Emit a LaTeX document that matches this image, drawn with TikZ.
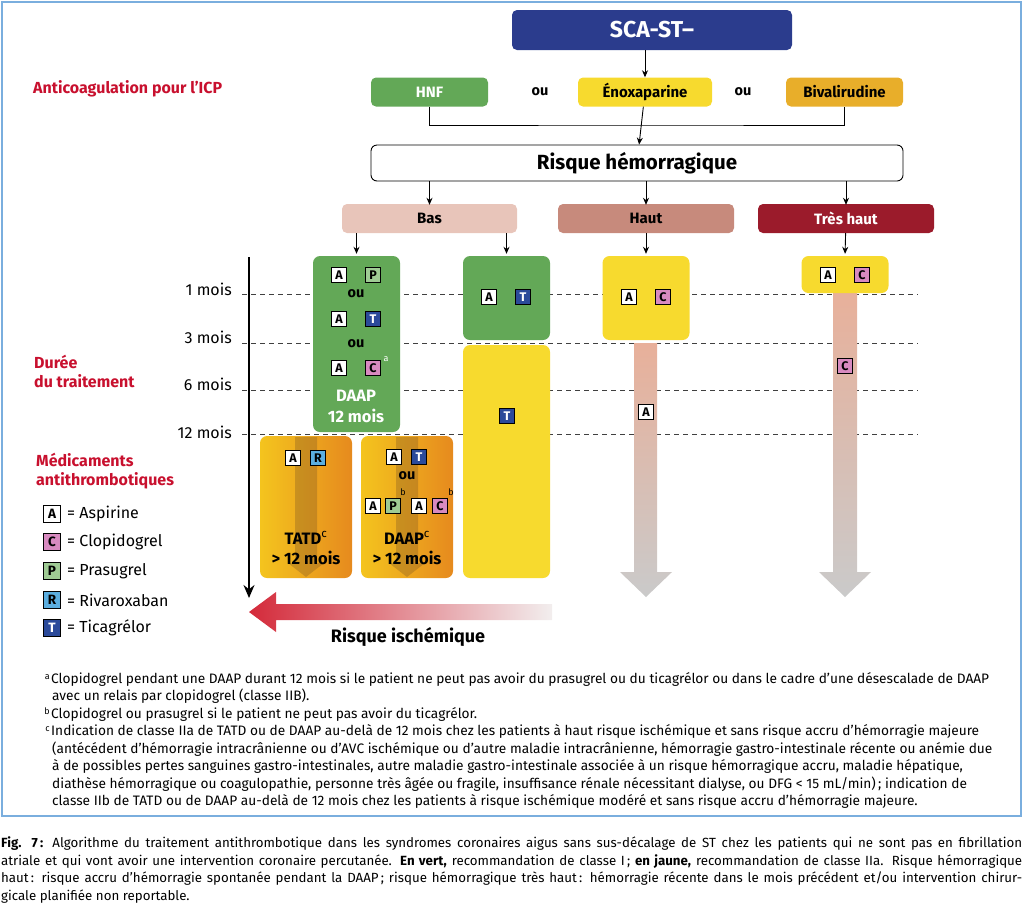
\documentclass[tikz,border=0pt]{standalone}
\usepackage{fontspec}
\setmainfont{Fira Sans}
\usetikzlibrary{arrows.meta}
\definecolor{navy}{HTML}{2B3C8D}
\definecolor{grn}{HTML}{63A857}
\definecolor{yel}{HTML}{F7DA2E}
\definecolor{org}{HTML}{E8AE2A}
\definecolor{basc}{HTML}{E8C5BA}
\definecolor{hautc}{HTML}{C78A7C}
\definecolor{tresc}{HTML}{9B1B2B}
\definecolor{redt}{HTML}{C8102E}
\definecolor{cC}{HTML}{D88AC0}
\definecolor{cP}{HTML}{9FCB94}
\definecolor{cR}{HTML}{5BAEE0}
\definecolor{cT}{HTML}{2B4A9A}
\definecolor{bord}{HTML}{7AAEDE}
\definecolor{salm}{HTML}{E8B09A}
\definecolor{gry}{HTML}{CACACA}
\definecolor{oyel}{HTML}{F4C41E}
\definecolor{oorg}{HTML}{E68A1E}
\definecolor{redA}{HTML}{D42A3A}
\definecolor{redB}{HTML}{F2EEEE}
\tikzset{
  box/.style={rounded corners=5pt, minimum height=29pt, inner sep=0pt, font=\bfseries\fontsize{15}{15}\selectfont},
  panel/.style={rounded corners=7pt, inner sep=0pt},
  badge/.style={draw=black, line width=0.7pt, minimum size=15.5pt, inner sep=0pt, font=\bfseries\fontsize{12.5}{12.5}\selectfont},
  bA/.style={badge, fill=white},
  bC/.style={badge, fill=cC},
  bP/.style={badge, fill=cP},
  bR/.style={badge, fill=cR},
  bT/.style={badge, fill=cT, text=white},
  lbadge/.style={minimum size=17pt, font=\bfseries\fontsize{13.5}{13.5}\selectfont},
  conn/.style={line width=0.9pt, -{Stealth[length=7pt,width=6pt]}},
  plain/.style={line width=0.9pt},
  ou/.style={font=\bfseries\fontsize{14.5}{14.5}\selectfont},
  wtxt/.style={font=\bfseries\fontsize{16.5}{16.5}\selectfont, text=white},
  btxt/.style={font=\bfseries\fontsize{16.5}{16.5}\selectfont},
  redlab/.style={anchor=base west, font=\bfseries\fontsize{16}{16}\selectfont, text=redt, inner sep=0pt},
  mois/.style={anchor=base east, font=\fontsize{16}{16}\selectfont, inner sep=0pt},
  legtxt/.style={anchor=west, font=\fontsize{16}{16}\selectfont, inner sep=0pt},
  fn/.style={anchor=base west, font=\fontsize{13.7}{16}\selectfont, inner sep=0pt},
  captxt/.style={anchor=base west, font=\fontsize{13.3}{16}\selectfont, inner sep=0pt},
  sup/.style={font=\fontsize{9}{9}\selectfont, inner sep=0pt},
  dashline/.style={line width=0.8pt, dash pattern=on 5pt off 4pt, draw=black!75},
  darr/.style={fill=black!45!brown, opacity=0.28}
}
\begin{document}
\begin{tikzpicture}[x=1pt,y=-1pt]
\useasboundingbox (0,0) rectangle (1024,903);
% frame
\draw[bord, line width=1.6pt] (2,2) rectangle (1021,816);

% dashed time lines
\draw[dashline] (242,294) -- (918,294);
\draw[dashline] (242,343) -- (918,343);
\draw[dashline] (242,390) -- (918,390);
\draw[dashline] (242,434) -- (918,434);
\node[mois] (m1) at (232,295) {1 mois};
\node[mois] (m3) at (232,343) {3 mois};
\node[mois] (m6) at (232,390) {6 mois};
\node[mois] (m12) at (232,438) {12 mois};

% top
\node[box, fill=navy, text=white, minimum width=280pt, minimum height=40pt, font=\bfseries\fontsize{23}{23}\selectfont] (sca) at (652,30) {SCA-ST–};
\node[redlab] (anti) at (33,93) {Anticoagulation pour l’ICP};
\node[box, fill=grn, text=white, minimum width=117pt] (hnf) at (429.5,92) {HNF};
\node[box, fill=yel, minimum width=134pt] (enox) at (645,92) {Énoxaparine};
\node[box, fill=org, minimum width=117pt] (biva) at (844.5,92) {Bivalirudine};
\node[ou] (ou1) at (540,92) {ou};
\node[ou] (ou2) at (743,92) {ou};
\node[draw=black, line width=0.9pt, rounded corners=6pt, minimum width=532pt, minimum height=36pt, inner sep=0pt, font=\bfseries\fontsize{20.5}{20.5}\selectfont] (risque) at (637,163) {Risque hémorragique};
\node[box, fill=basc, minimum width=175pt] (bas) at (429.5,218.5) {Bas};
\node[box, fill=hautc, minimum width=176pt] (haut) at (646,218.5) {Haut};
\node[box, fill=tresc, text=white, minimum width=176pt] (tres) at (846,218.5) {Très haut};

\coordinate (join) at (645,125);
\draw[conn] (sca.south -| enox) -- (enox);
\draw[plain] (hnf.south) |- (join) -| (biva.south);
\draw[conn] (enox) -- (risque);
\draw[conn] (risque.south -| bas) -- ([yshift=-1pt]bas.north);
\draw[conn] (risque.south -| haut) -- ([yshift=-1pt]haut.north);
\draw[conn] (risque.south -| tres) -- ([yshift=-1pt]tres.north);

% left labels
\node[redlab] (dur1) at (34,368) {Durée};
\node[redlab] (dur2) at (34,387) {du traitement};
\node[redlab] (med1) at (36,466) {Médicaments};
\node[redlab] (med2) at (36,485) {antithrombotiques};

% legend
\node[bA, lbadge] (lA) at (52,514) {A};
\node[bC, lbadge] (lC) at (52,542) {C};
\node[bP, lbadge] (lP) at (52,571) {P};
\node[bR, lbadge] (lR) at (52,600) {R};
\node[bT, lbadge] (lT) at (52,628) {T};
\node[legtxt] at (67,514) {= Aspirine};
\node[legtxt] at (67,542) {= Clopidogrel};
\node[legtxt] at (67,571) {= Prasugrel};
\node[legtxt] at (67,600) {= Rivaroxaban};
\node[legtxt] at (67,628) {= Ticagrélor};

% timeline axis
\coordinate (ax0) at (249,257);
\coordinate (ax1) at (249,598);
\draw[line width=1.6pt, -{Stealth[length=13pt,width=11pt]}] (ax0) -- (ax1);

% Bas column panels
\node[panel, fill=grn, minimum width=87pt, minimum height=176pt] (g1) at (356.5,344) {};
\node[panel, fill=grn, minimum width=87pt, minimum height=84pt] (g2) at (506.5,298) {};
\node[panel, fill=yel, minimum width=87pt, minimum height=233pt] (y2) at (506.5,461.5) {};
\draw[conn, shorten >=2pt] (bas.south -| g1) -- (g1.north);
\draw[conn, shorten >=2pt] (bas.south -| g2) -- (g2.north);

\node[bA] at (339,275) {A}; \node[bP] at (373,275) {P};
\node[ou] at (356,294) {ou};
\node[bA] at (339,319) {A}; \node[bT] at (373,319) {T};
\node[ou] at (356,344) {ou};
\node[bA] at (339,368) {A}; \node[bC] at (373,368) {C};
\node[sup, text=white] at (386,359) {a};
\node[wtxt] at (356,396) {DAAP};
\node[wtxt] at (356,416) {12 mois};

\node[bA] at (489,297) {A}; \node[bT] at (523,297) {T};
\node[bT] at (507,416) {T};

% orange panels
\node[panel, left color=oyel, right color=oorg, minimum width=92pt, minimum height=142pt] (o1) at (306,507) {};
\node[panel, left color=oyel, right color=oorg, minimum width=92pt, minimum height=142pt] (o2) at (407,507) {};
\fill[darr] (295,437) -- (317,437) -- (317,563) -- (324,563) -- (306,577) -- (288,563) -- (295,563) -- cycle;
\fill[darr] (396,437) -- (418,437) -- (418,563) -- (425,563) -- (407,577) -- (389,563) -- (396,563) -- cycle;
\node[bA] at (293,458) {A}; \node[bR] at (318,458) {R};
\node[btxt] at (306,538) {TATD\textsuperscript{\mdseries c}};
\node[btxt] at (306,558) {> 12 mois};
\node[bA] at (394,457) {A}; \node[bT] at (419,457) {T};
\node[ou] at (407,476) {ou};
\node[bA] at (373,506) {A}; \node[bP] at (393,506) {P};
\node[bA] at (419,506) {A}; \node[bC] at (440,506) {C};
\node[sup] at (403,492) {b};
\node[sup] at (451,492) {b};
\node[btxt] at (407,538) {DAAP\textsuperscript{\mdseries c}};
\node[btxt] at (407,558) {> 12 mois};

% Haut column
\shade[top color=salm, bottom color=gry] (634,343) -- (657,343) -- (657,572) -- (672,572) -- (646,597) -- (620,572) -- (634,572) -- cycle;
\node[panel, fill=yel, minimum width=87pt, minimum height=84pt] (yh) at (646,298) {};
\draw[conn, shorten >=2pt] (haut) -- (yh.north);
\node[bA] at (629,297) {A}; \node[bC] at (663,297) {C};
\node[bA] at (646,412) {A};

% Tres haut column
\shade[top color=salm, bottom color=gry] (833,290) -- (857,290) -- (857,572) -- (871,572) -- (845,597) -- (819,572) -- (833,572) -- cycle;
\node[panel, fill=yel, minimum width=87pt, minimum height=37pt] (yt) at (845,274.5) {};
\draw[conn, shorten >=2pt] (tres) -- (yt.north);
\node[bA] at (828,275) {A}; \node[bC] at (862,275) {C};
\node[bC] at (845,366) {C};

% ischemic risk arrow
\shade[left color=redA, right color=redB] (249,612) -- (276,592) -- (276,604) -- (552,604) -- (552,620) -- (276,620) -- (276,632) -- cycle;
\node[font=\bfseries\fontsize{18}{18}\selectfont] (isch) at (408,637) {Risque ischémique};

% footnotes
\node[sup, anchor=base east] at (50,679) {a};
\node[fn] at (51,683) {Clopidogrel pendant une DAAP durant 12 mois si le patient ne peut pas avoir du prasugrel ou du ticagrélor ou dans le cadre d’une désescalade de DAAP};
\node[fn] at (52,700.5) {avec un relais par clopidogrel (classe IIB).};
\node[sup, anchor=base east] at (50,714) {b};
\node[fn] at (51,718) {Clopidogrel ou prasugrel si le patient ne peut pas avoir du ticagrélor.};
\node[sup, anchor=base east] at (50,731.5) {c};
\node[fn] at (51,735.5) {Indication de classe IIa de TATD ou de DAAP au-delà de 12 mois chez les patients à haut risque ischémique et sans risque accru d’hémorragie majeure};
\node[fn] at (52,753) {(antécédent d’hémorragie intracrânienne ou d’AVC ischémique ou d’autre maladie intracrânienne, hémorragie gastro-intestinale récente ou anémie due};
\node[fn] at (52,770.5) {à de possibles pertes sanguines gastro-intestinales, autre maladie gastro-intestinale associée à un risque hémorragique accru, maladie hépatique,};
\node[fn] at (52,788) {diathèse hémorragique ou coagulopathie, personne très âgée ou fragile, insuffisance rénale nécessitant dialyse, ou DFG < 15 mL/min)\,; indication de};
\node[fn] at (52,805.5) {classe IIb de TATD ou de DAAP au-delà de 12 mois chez les patients à risque ischémique modéré et sans risque accru d’hémorragie majeure.};

% caption
\node[captxt] at (1,847) {\makebox[1021pt][s]{\textbf{Fig. 7\,:} Algorithme du traitement antithrombotique dans les syndromes coronaires aigus sans sus-décalage de ST chez les patients qui ne sont pas en fibrillation}};
\node[captxt] at (1,865) {\makebox[1021pt][s]{atriale et qui vont avoir une intervention coronaire percutanée. \textbf{En vert,} recommandation de classe I\,; \textbf{en jaune,} recommandation de classe IIa. Risque hémorragique}};
\node[captxt] at (1,882.5) {\makebox[1021pt][s]{haut\,: risque accru d’hémorragie spontanée pendant la DAAP\,; risque hémorragique très haut\,: hémorragie récente dans le mois précédent et/ou intervention chirur-}};
\node[captxt] at (1,900) {gicale planifiée non reportable.};
\end{tikzpicture}
\end{document}
